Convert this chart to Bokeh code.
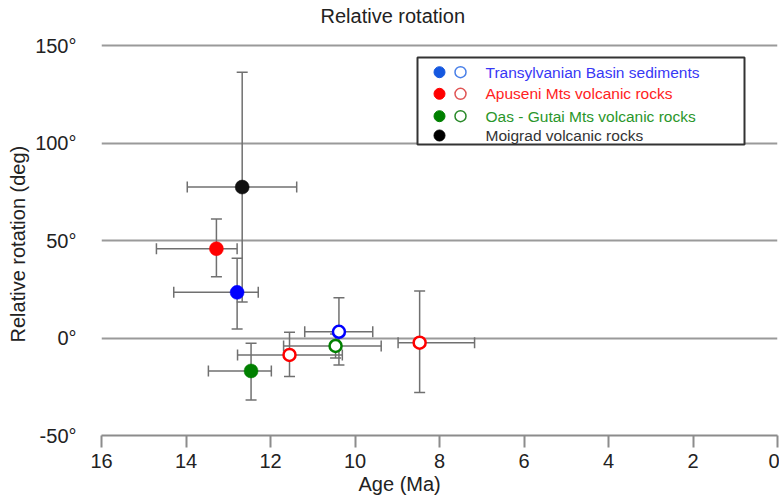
import math
from bokeh.plotting import figure
from bokeh.models import (Range1d, FixedTicker, ColumnDataSource, Whisker, TeeHead, Label, Title)
from bokeh.embed import file_html
from bokeh.resources import INLINE

# ---------------- data ----------------
age = [12.67, 12.79, 13.28, 12.46, 11.55, 10.46, 10.38, 8.47]
rotation = [77.4, 23.4, 45.8, -16.9, -8.7, -4.1, 3.2, -2.4]
age_old = [13.97, 14.29, 14.70, 13.47, 12.78, 11.69, 11.19, 8.98]
age_young = [11.38, 12.29, 12.79, 11.98, 10.30, 9.38, 9.58, 7.17]
rot_low = [18.5, 4.6, 31.4, -31.8, -19.8, -10.3, -13.8, -28.0]
rot_high = [136.3, 40.9, 61.0, -2.7, 2.9, 2.1, 20.7, 24.1]
group = ["Moigrad", "Transylvanian", "Apuseni", "Oas", "Apuseni", "Oas", "Transylvanian", "Apuseni"]
filled = [True, True, True, True, False, False, False, False]

legend_labels = ["Transylvanian Basin sediments", "Apuseni Mts volcanic rocks",
                 "Oas - Gutai Mts volcanic rocks", "Moigrad volcanic rocks"]
legend_groups = ["Transylvanian", "Apuseni", "Oas", "Moigrad"]
legend_has_open = [True, True, True, False]

x_ticks = [16, 14, 12, 10, 8, 6, 4, 2, 0]
y_ticks = [-50, 0, 50, 100, 150]
y_tick_labels = ["-50°", "0°", "50°", "100°", "150°"]

title_text = "Relative rotation"
x_title = "Age (Ma)"
y_title = "Relative rotation (deg)"

# ---------------- styling ----------------
marker_color = {"Moigrad": "#111111", "Transylvanian": "#0000ff", "Apuseni": "#ff0000", "Oas": "#008000"}
legend_fill = {"Moigrad": "#000000", "Transylvanian": "#1558e0", "Apuseni": "#ff0000", "Oas": "#008000"}
legend_ring = {"Moigrad": "#000000", "Transylvanian": "#4a80e8", "Apuseni": "#e05555", "Oas": "#2a8a2a"}
legend_text = {"Moigrad": "#333333", "Transylvanian": "#3838f5", "Apuseni": "#ff2222", "Oas": "#2a962a"}
FONT = "Liberation Sans"

W, H = 779, 498
FL, FR, FT, FB = 101, 777, 28, 435
X0, X1 = 16, 0
Y0 = -50
Y1 = Y0 + (FB - FT) / 1.95

def px2x(px):
    return X0 + (px - FL) * (X1 - X0) / (FR - FL)

def py2y(py):
    return Y1 - (py - FT) * (Y1 - Y0) / (FB - FT)

p = figure(width=W, height=H, x_range=Range1d(X0, X1), y_range=Range1d(Y0, Y1),
           output_backend="svg", toolbar_location=None,
           min_border_left=FL, min_border_right=W - FR, min_border_top=FT, min_border_bottom=H - FB)
p.outline_line_color = None
p.background_fill_color = "white"
p.border_fill_color = "white"

# axes
p.xaxis.ticker = FixedTicker(ticks=x_ticks)
p.xaxis.axis_line_color = "#8c8c8c"
p.xaxis.axis_line_width = 2
p.xaxis.major_tick_line_color = "#8c8c8c"
p.xaxis.major_tick_line_width = 2
p.xaxis.major_tick_out = 12
p.xaxis.major_tick_in = 0
p.xaxis.minor_tick_line_color = None
p.xaxis.major_label_text_font = FONT
p.xaxis.major_label_text_font_size = "20px"
p.xaxis.major_label_text_color = "#222222"
p.xaxis.major_label_standoff = 6

p.yaxis.ticker = FixedTicker(ticks=y_ticks)
p.yaxis.axis_line_color = None
p.yaxis.major_tick_line_color = None
p.yaxis.minor_tick_line_color = None
p.yaxis.major_label_overrides = {t: s for t, s in zip(y_ticks, y_tick_labels)}
p.yaxis.major_label_text_font = FONT
p.yaxis.major_label_text_font_size = "20px"
p.yaxis.major_label_text_color = "#222222"
p.yaxis.major_label_standoff = 19

p.xgrid.visible = False
p.ygrid.ticker = FixedTicker(ticks=y_ticks)
p.ygrid.grid_line_color = "#9a9a9a"
p.ygrid.grid_line_width = 2

# error bars
src = ColumnDataSource(dict(age=age, rot=rotation, age_old=age_old, age_young=age_young,
                            rot_low=rot_low, rot_high=rot_high))
bar_col = "#707070"
vw = Whisker(base="age", lower="rot_low", upper="rot_high", dimension="height", source=src,
             line_color=bar_col, line_width=1.5,
             upper_head=TeeHead(size=11, line_color=bar_col, line_width=1.5),
             lower_head=TeeHead(size=11, line_color=bar_col, line_width=1.5))
hw = Whisker(base="rot", lower="age_young", upper="age_old", dimension="width", source=src,
             line_color=bar_col, line_width=1.5,
             upper_head=TeeHead(size=11, line_color=bar_col, line_width=1.5),
             lower_head=TeeHead(size=11, line_color=bar_col, line_width=1.5))
p.add_layout(hw)
p.add_layout(vw)

# points
fa = [a for a, f in zip(age, filled) if f]
fr = [r for r, f in zip(rotation, filled) if f]
fc = [marker_color[g] for g, f in zip(group, filled) if f]
oa = [a for a, f in zip(age, filled) if not f]
orr = [r for r, f in zip(rotation, filled) if not f]
oc = [marker_color[g] for g, f in zip(group, filled) if not f]
p.scatter(fa, fr, size=14, fill_color=fc, line_color=fc, line_width=0.5)
p.scatter(oa, orr, size=12, fill_color="white", line_color=oc, line_width=2.5)

# legend (custom, two markers per row)
box_l, box_r, box_t, box_b = 417, 744, 57, 144
p.quad(left=[px2x(box_l)], right=[px2x(box_r)], top=[py2y(box_t)], bottom=[py2y(box_b)],
       fill_color="white", line_color="#333333", line_width=2)
row_y = [71.7, 93.3, 115.7, 135.0]
for g, lab, has_open, ry in zip(legend_groups, legend_labels, legend_has_open, row_y):
    p.scatter([px2x(439)], [py2y(ry)], size=11, fill_color=legend_fill[g], line_color=legend_fill[g])
    if has_open:
        p.scatter([px2x(460)], [py2y(ry)], size=11, fill_color="white",
                  line_color=legend_ring[g], line_width=1.5)
    p.add_layout(Label(x=px2x(485), y=py2y(ry), text=lab, text_font=FONT,
                       text_font_size="15.5px", text_color=legend_text[g],
                       text_align="left", text_baseline="middle"))

# titles in side panels
p.add_layout(Title(text=title_text, align="left", offset=219, standoff=3,
                   text_font=FONT, text_font_size="20px", text_font_style="normal",
                   text_color="#222222"), "above")
p.add_layout(Title(text=x_title, align="left", offset=257, standoff=0,
                   text_font=FONT, text_font_size="20px", text_font_style="normal",
                   text_color="#222222"), "below")
p.add_layout(Title(text=y_title, align="left", offset=93, standoff=8,
                   text_font=FONT, text_font_size="20px", text_font_style="normal",
                   text_color="#222222"), "left")

open("out.html", "w").write(file_html(p, INLINE))
